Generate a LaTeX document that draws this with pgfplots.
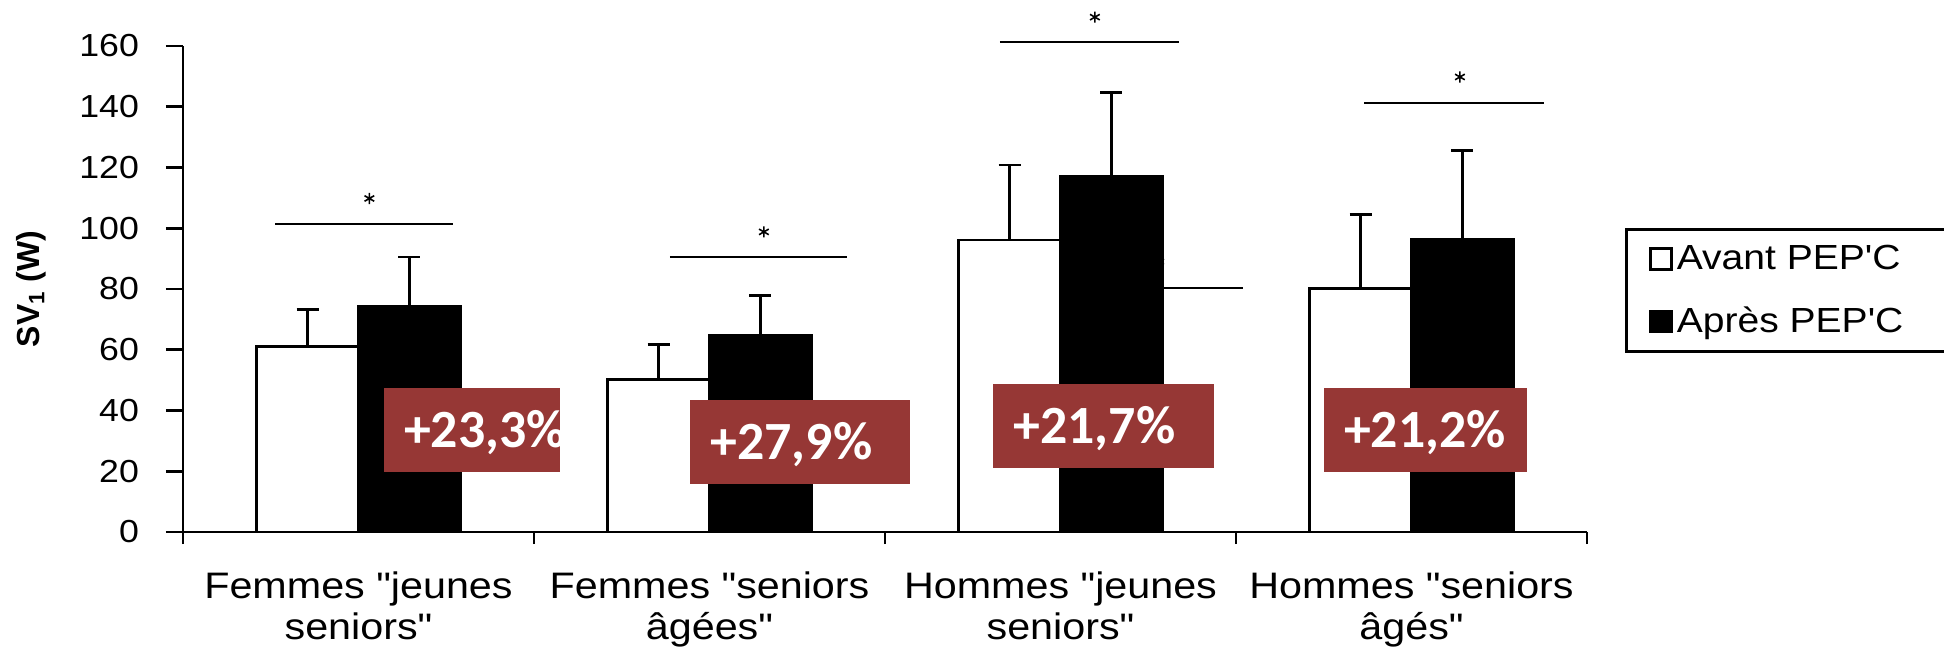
\documentclass[border=0pt]{standalone}
\usepackage{fontspec}
\setmainfont{Liberation Sans}[FakeStretch=1.12, Ligatures=TeXOff]
\newfontfamily\labelfont{Liberation Sans}
\newfontfamily\boxfont{Carlito}
\usepackage{pgfplots}
\pgfplotsset{compat=1.18}
\usepackage{pgfplotstable}
\definecolor{gainred}{RGB}{150,55,53}

% SV1 (W) before / after the PEP'C programme, mean and SD
\pgfplotstableread{
x  y      ey
0  61.0   12.3
1  50.3   11.5
2  96.1   24.7
3  80.1   24.5
}\avant
\pgfplotstableread{
x  y      ey
0  74.2   16.3
1  64.7   13.2
2  117.1  27.5
3  96.4   29.1
}\apres

\begin{document}
\begin{tikzpicture}
\useasboundingbox (-91.5bp,-61bp) rectangle (880.5bp,266bp);
\begin{axis}[
  scale only axis, width=702bp, height=243bp,
  xmin=-0.5, xmax=3.5, ymin=0, ymax=160,
  axis lines*=left,
  axis line style={line width=1.4bp},
  clip=false,
  tick align=outside,
  xtick={0,1,2,3},
  xticklabels={{Femmes "jeunes\\seniors"},{Femmes "seniors\\âgées"},{Hommes "jeunes\\seniors"},{Hommes "seniors\\âgés"}},
  every major x tick/.append style={draw=none},
  minor xtick={-0.5,0.5,1.5,2.5,3.5},
  every minor x tick/.append style={line width=1.4bp, black},
  minor tick length=6bp,
  ytick={0,20,...,160},
  every major y tick/.append style={line width=1.4bp, black},
  major tick length=8.5bp,
  xticklabel style={align=center, font=\fontsize{18.5}{20.5}\selectfont, yshift=-8bp},
  yticklabel style={font=\fontsize{16}{18}\selectfont, xshift=-10bp},
  /pgf/number format/assume math mode=true,
  ylabel={\labelfont\bfseries SV\textsubscript{1} (W)},
  ylabel style={at={(axis description cs:-0.1083,0.5)}, anchor=center, font=\fontsize{16}{18}\selectfont},
  legend style={at={(axis description cs:1.027,0.6255)}, anchor=north west,
    draw=black, line width=1.3bp, font=\fontsize{17.5}{19}\selectfont,
    inner xsep=11.5bp, inner ysep=6bp, row sep=13.25bp},
  legend cell align=left,
]
% significance line partly hidden behind the third group
\addplot[forget plot, line width=1bp] coordinates {(2.01,80.4) (2.52,80.4)};
\addplot[forget plot, only marks, mark=asterisk, mark size=2.8bp, mark options={line width=0.8bp}] coordinates {(2.281,89.0)};

\addplot[ybar, bar width=0.29, bar shift=0, fill=white, draw=black, line width=1.3bp,
  legend image code/.code={\draw[draw=black, line width=1.3bp, fill=white] (0bp,-5.25bp) rectangle (10.5bp,5.25bp);},
  error bars/.cd, y dir=plus, y explicit,
  error bar style={line width=1.3bp, black},
  error mark options={rotate=90, mark size=5.5bp, line width=1.3bp, black}]
  table[x expr=\thisrow{x}-0.145, y=y, y error=ey]{\avant};
\addlegendentry{Avant PEP'C\hspace*{8bp}}
\addplot[ybar, bar width=0.29, bar shift=0, fill=black, draw=black, line width=1.3bp,
  legend image code/.code={\draw[draw=black, line width=1.3bp, fill=black] (0bp,-5.25bp) rectangle (10.5bp,5.25bp);},
  error bars/.cd, y dir=plus, y explicit,
  error bar style={line width=1.3bp, black},
  error mark options={rotate=90, mark size=5.5bp, line width=1.3bp, black}]
  table[x expr=\thisrow{x}+0.145, y=y, y error=ey]{\apres};
\addlegendentry{Après PEP'C\hspace*{8bp}}

% percentage gain boxes
\fill[gainred] (axis cs:0.072,19.9) rectangle (axis cs:0.574,47.5);
\fill[gainred] (axis cs:0.945,15.9) rectangle (axis cs:1.571,43.5);
\fill[gainred] (axis cs:1.808,21.1) rectangle (axis cs:2.438,48.8);
\fill[gainred] (axis cs:2.750,19.9) rectangle (axis cs:3.330,47.5);
\begin{scope}[every node/.style={anchor=base west, inner sep=0pt, xshift=10bp, text=white,
    font={\boxfont\bfseries\fontsize{27}{30}\selectfont}}]
\node at (axis cs:0.072,27.9) {+23,3\%};
\node at (axis cs:0.945,23.9) {+27,9\%};
\node at (axis cs:1.808,29.1) {+21,7\%};
\node at (axis cs:2.750,27.9) {+21,2\%};
\end{scope}

% significance lines and asterisks
\addplot[forget plot, line width=1bp] coordinates {(-0.237,101.3) (0.270,101.3)};
\addplot[forget plot, line width=1bp] coordinates {(0.887,90.6) (1.392,90.6)};
\addplot[forget plot, line width=1bp] coordinates {(1.827,161.2) (2.338,161.2)};
\addplot[forget plot, line width=1bp] coordinates {(2.865,141.3) (3.377,141.3)};
\addplot[forget plot, only marks, mark=asterisk, mark size=2.8bp, mark options={line width=0.8bp}]
  coordinates {(0.031,109.8) (1.155,98.8) (2.098,169.5) (3.138,149.8)};
\end{axis}
\end{tikzpicture}
\end{document}
